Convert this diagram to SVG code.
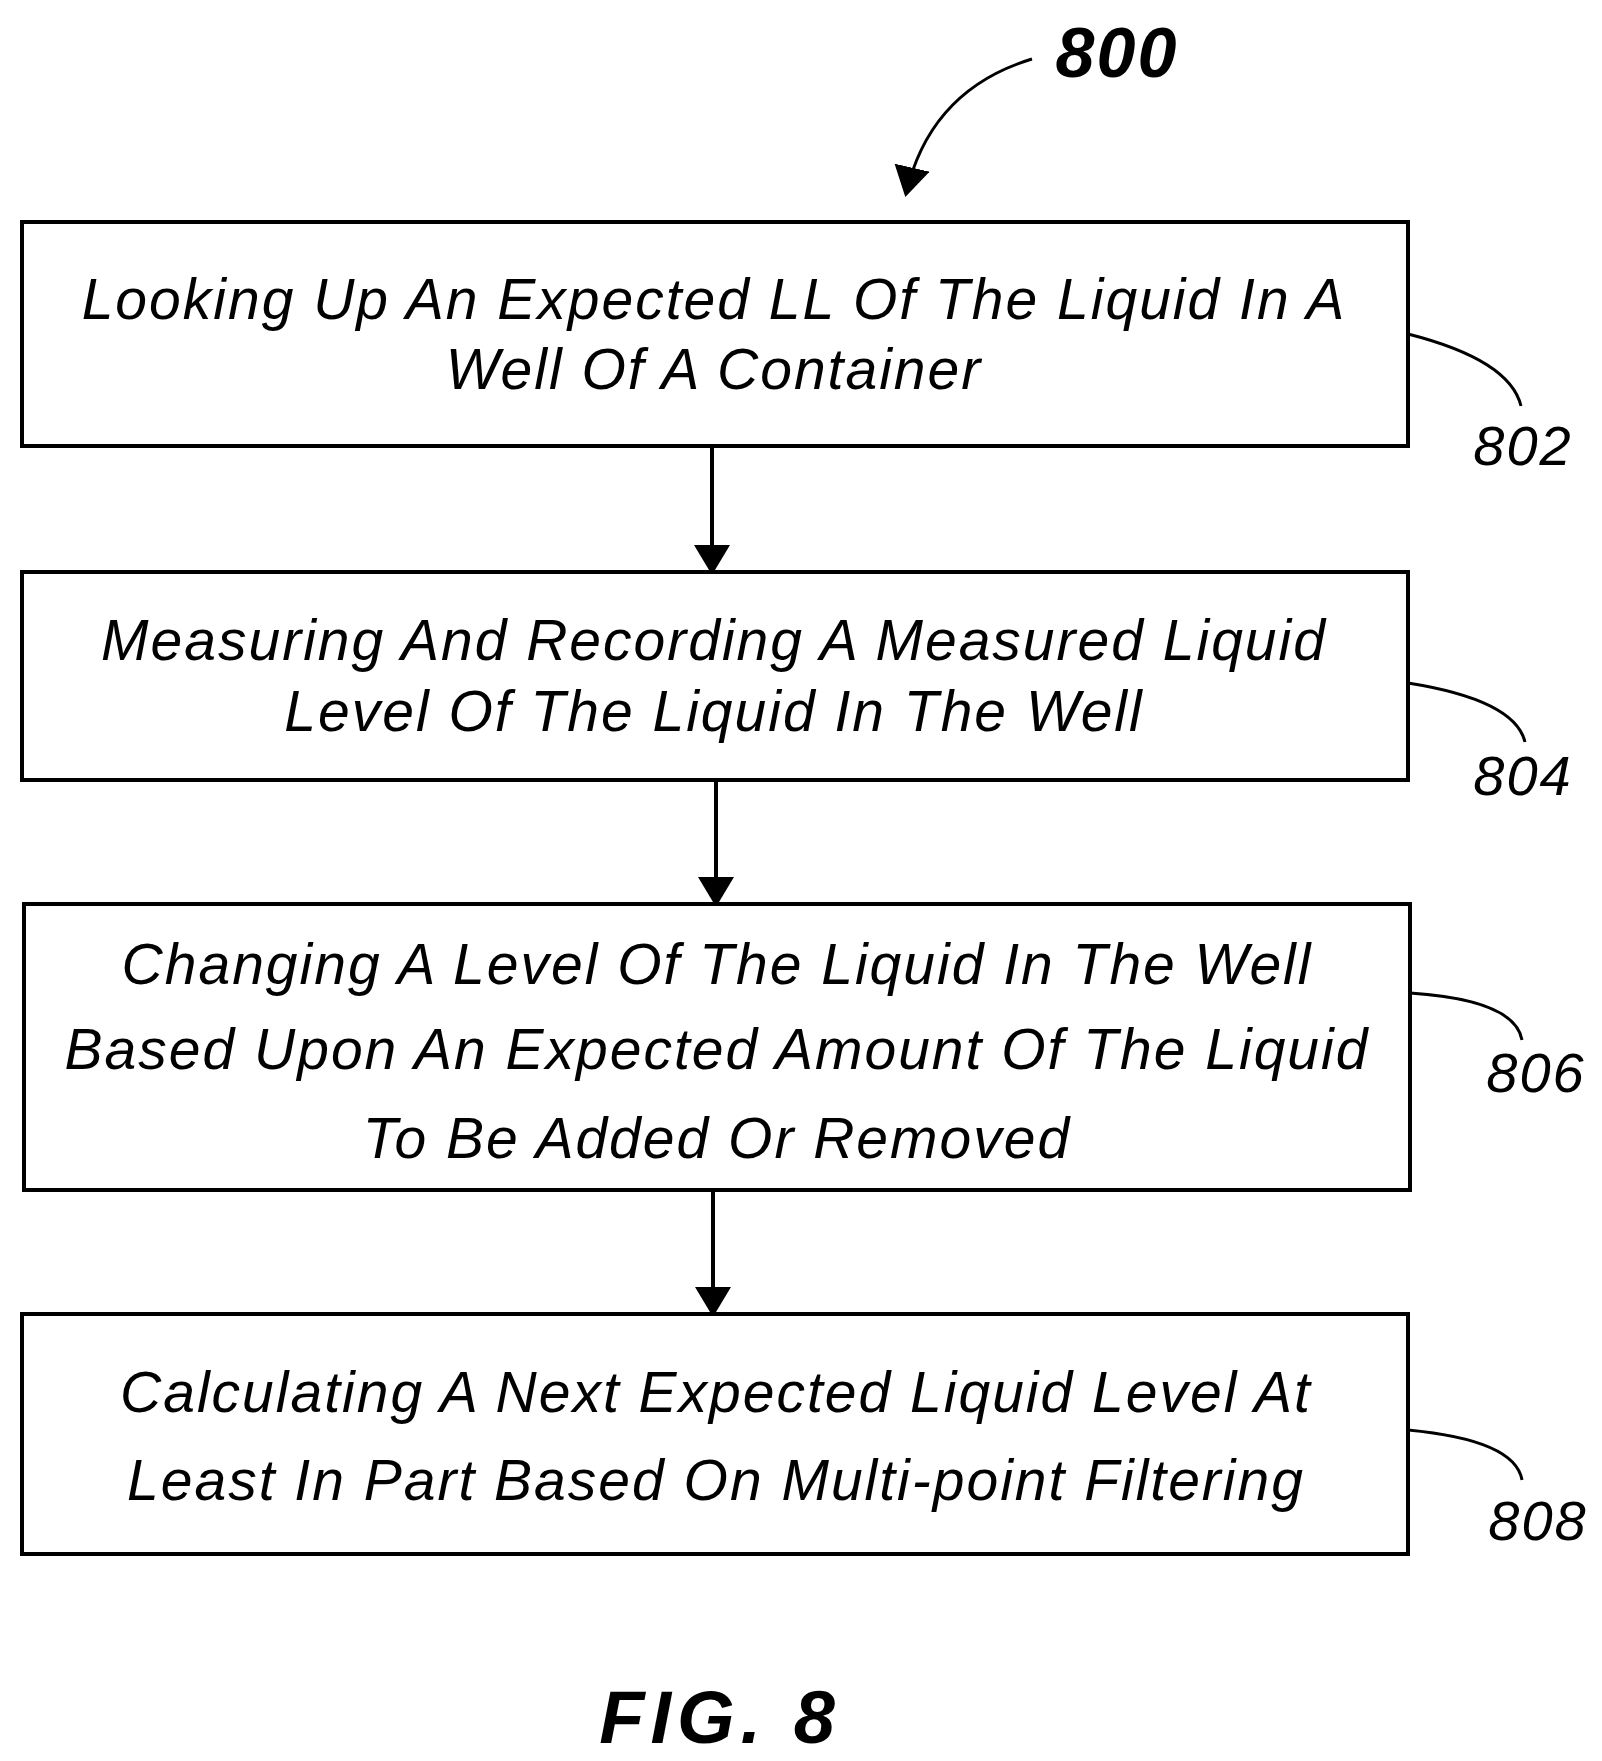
<svg xmlns="http://www.w3.org/2000/svg" width="1602" height="1761" viewBox="0 0 1602 1761">
<style>
.box{fill:#fff;stroke:#000;stroke-width:4}
.t{font-family:"Liberation Sans",sans-serif;font-style:italic;font-size:57px;letter-spacing:2px;text-anchor:middle;fill:#000}
.n{font-family:"Liberation Sans",sans-serif;font-style:italic;font-size:56px;letter-spacing:2px;text-anchor:middle;fill:#000}
.c{fill:none;stroke:#000;stroke-width:3}
.a{fill:none;stroke:#000;stroke-width:4}
</style>
<defs>
<marker id="big" viewBox="0 0 10 10" refX="9" refY="5" markerWidth="30" markerHeight="36" orient="auto" markerUnits="userSpaceOnUse" preserveAspectRatio="none"><path d="M0,0 L10,5 L0,10 z"/></marker></defs>
<rect width="1602" height="1761" fill="#fff"/>
<g id="connectors">
<path class="a" d="M712,446 V572" marker-end="url(#big)"/>
<path class="a" d="M716,780 V904" marker-end="url(#big)"/>
<path class="a" d="M713,1190 V1314" marker-end="url(#big)"/>
<path class="c" d="M1032,59 Q930,90 906,194" marker-end="url(#big)"/>
<path class="c" d="M1408,334 Q1510,360 1521,406"/>
<path class="c" d="M1408,683 Q1515,700 1525,742"/>
<path class="c" d="M1410,993 Q1515,1000 1522,1040"/>
<path class="c" d="M1408,1430 Q1515,1440 1522,1480"/>
</g>
<g id="n800"><text class="n" x="1117" y="77" style="font-weight:bold;font-size:70px">800</text></g>
<g id="n802"><rect class="box" x="22" y="222" width="1386" height="224"/>
<text class="t" x="714" y="319">Looking Up An Expected LL Of The Liquid In A</text>
<text class="t" x="714" y="389">Well Of A Container</text>
<text class="n" x="1523" y="465">802</text></g>
<g id="n804"><rect class="box" x="22" y="572" width="1386" height="208"/>
<text class="t" x="714" y="660">Measuring And Recording A Measured Liquid</text>
<text class="t" x="714" y="731">Level Of The Liquid In The Well</text>
<text class="n" x="1523" y="795">804</text></g>
<g id="n806"><rect class="box" x="24" y="904" width="1386" height="286"/>
<text class="t" x="717" y="984">Changing A Level Of The Liquid In The Well</text>
<text class="t" x="717" y="1069">Based Upon An Expected Amount Of The Liquid</text>
<text class="t" x="717" y="1158">To Be Added Or Removed</text>
<text class="n" x="1536" y="1092">806</text></g>
<g id="n808"><rect class="box" x="22" y="1314" width="1386" height="240"/>
<text class="t" x="716" y="1412">Calculating A Next Expected Liquid Level At</text>
<text class="t" x="716" y="1500">Least In Part Based On Multi-point Filtering</text>
<text class="n" x="1538" y="1540">808</text></g>
<g id="fig"><text class="n" x="720" y="1743" style="font-weight:bold;font-size:74px;letter-spacing:6px">FIG. 8</text></g>
</svg>
